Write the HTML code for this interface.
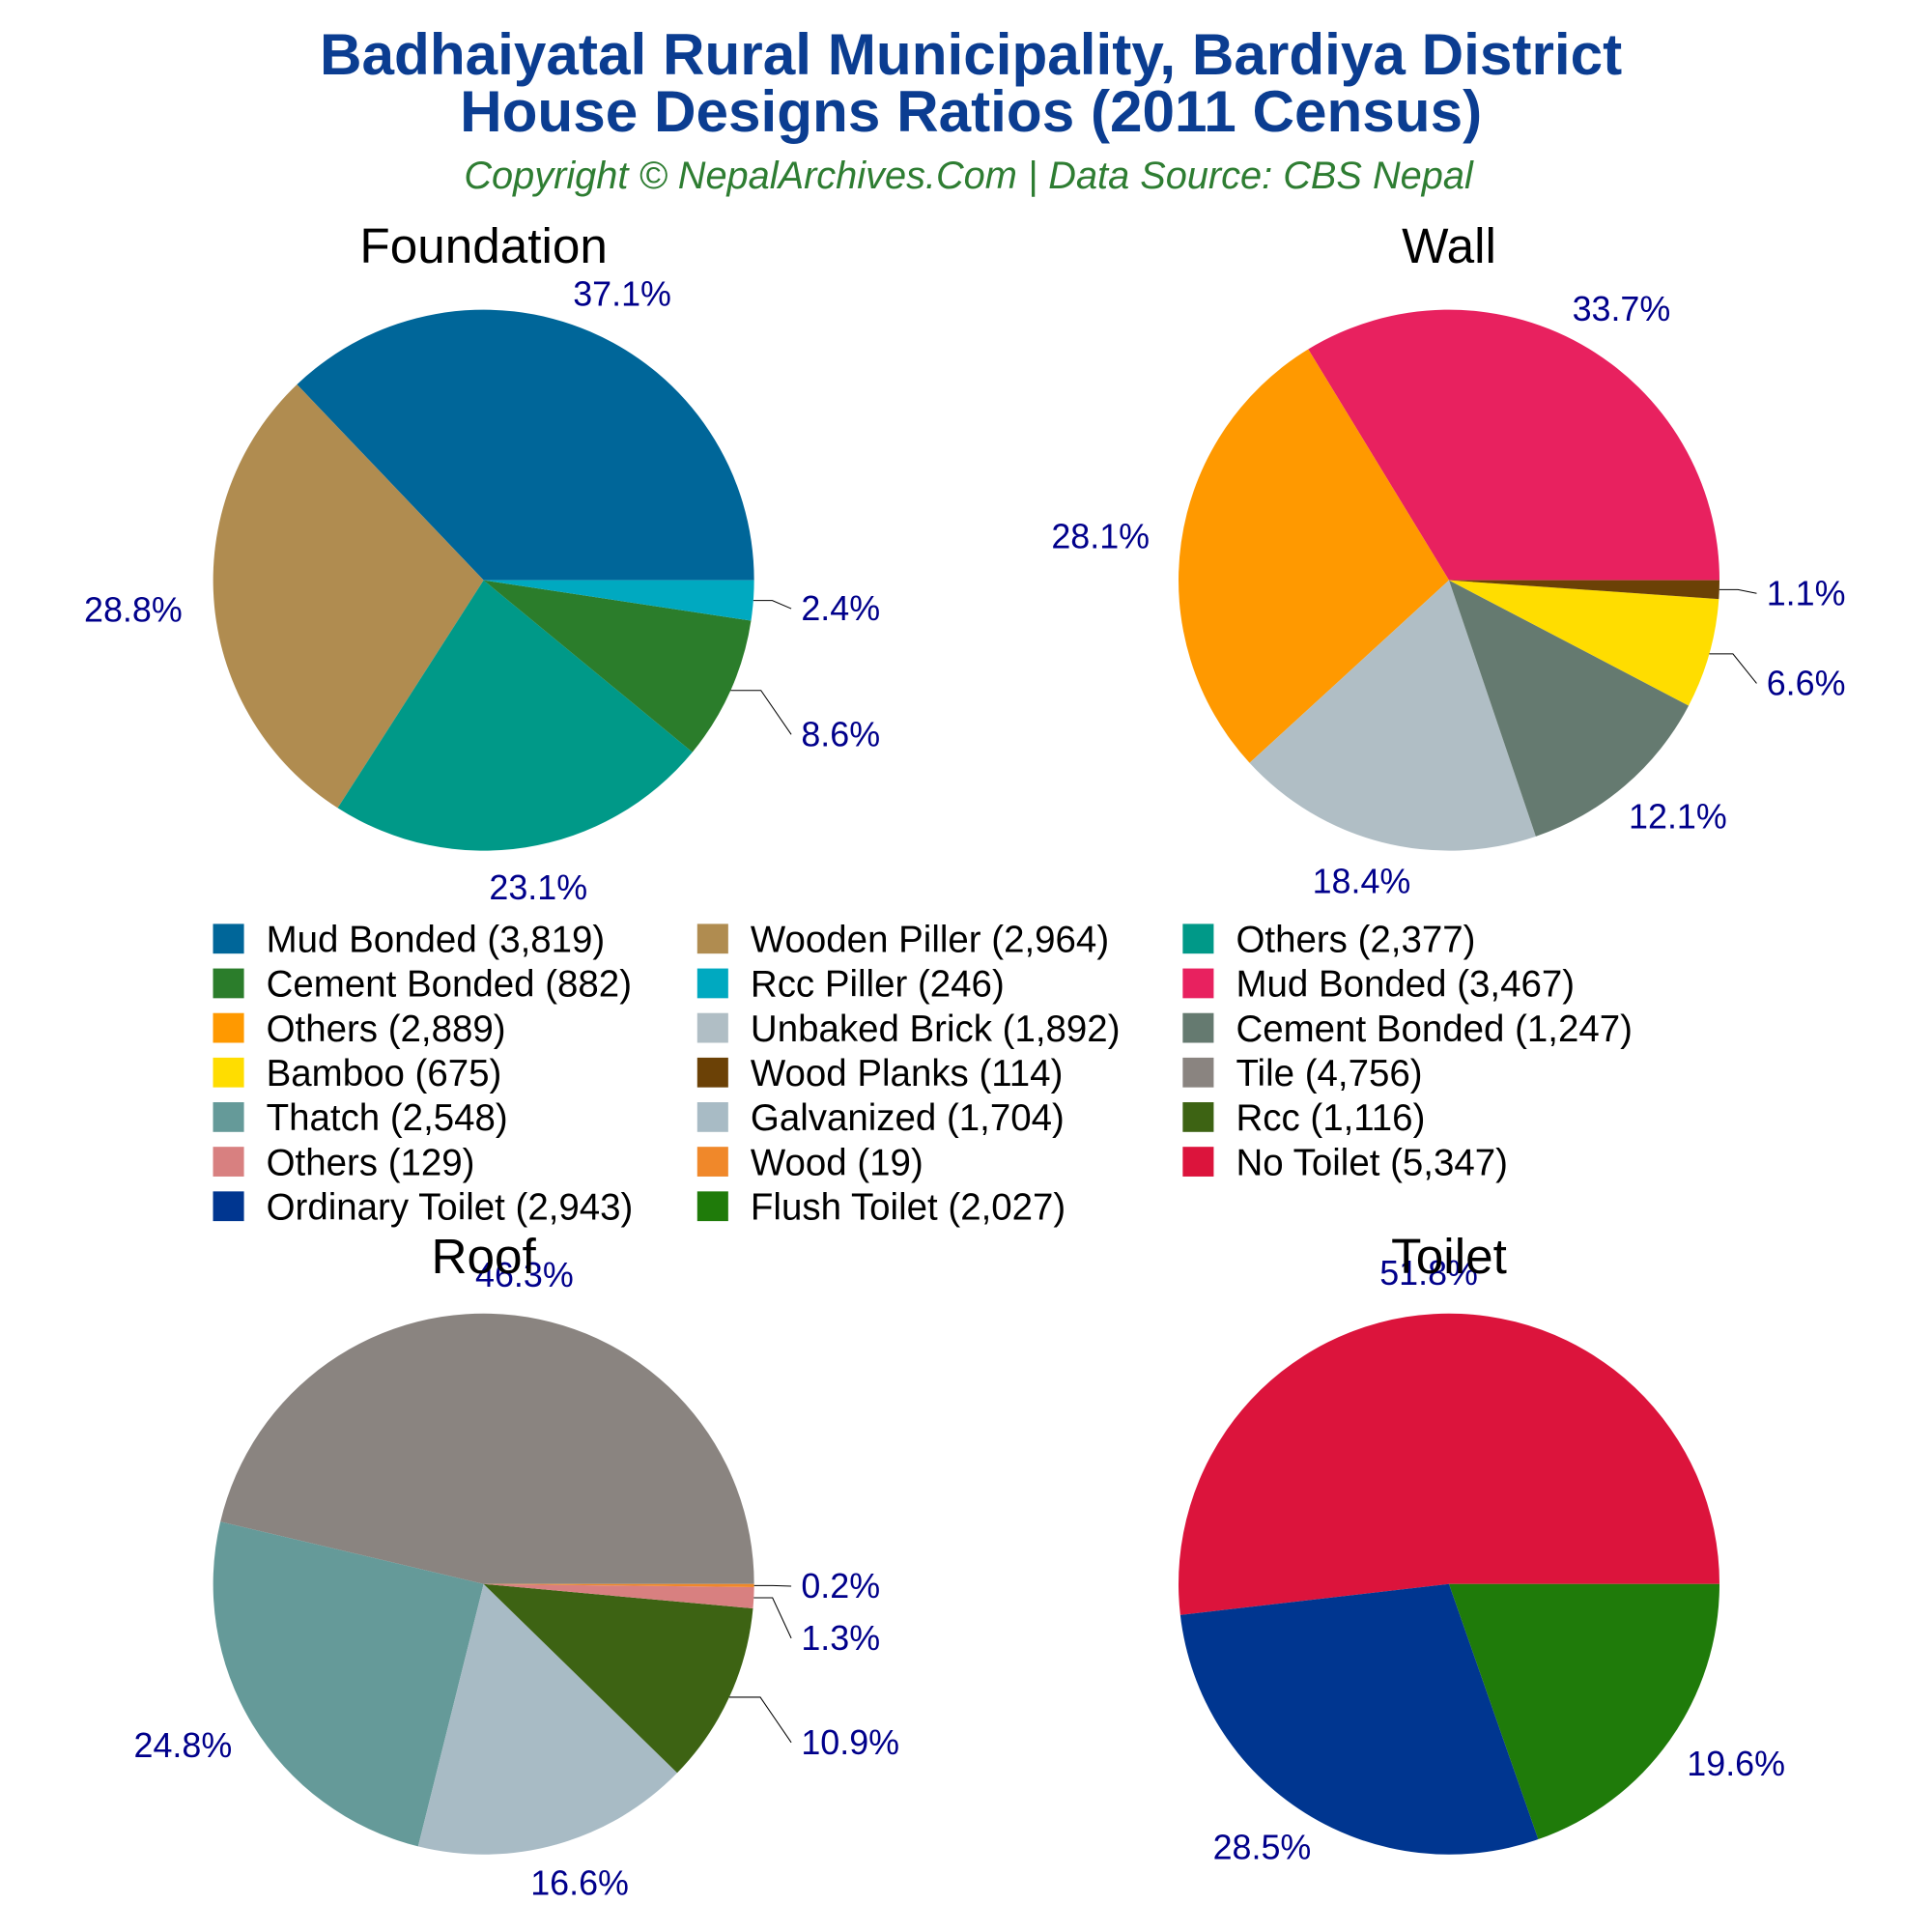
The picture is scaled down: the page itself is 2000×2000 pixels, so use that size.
<!DOCTYPE html>
<html><head><meta charset="utf-8"><style>
html,body{margin:0;padding:0;background:#fff}
svg{display:block;font-family:"Liberation Sans",Arial,sans-serif}
</style></head><body>
<svg id="chart" width="2000" height="2000" viewBox="0 0 1560 1560" xmlns="http://www.w3.org/2000/svg">
<text x="784" y="60" text-anchor="middle" font-size="47" font-weight="bold" fill="#0b3d91">Badhaiyatal Rural Municipality, Bardiya District</text>
<text x="784" y="106" text-anchor="middle" font-size="47" font-weight="bold" fill="#0b3d91">House Designs Ratios (2011 Census)</text>
<text x="782" y="152" text-anchor="middle" font-size="31" font-style="italic" fill="#2e7d32">Copyright © NepalArchives.Com | Data Source: CBS Nepal</text>
<g id="pies"></g>
<g id="legend"></g>
</svg>
<script>
const foundationLabels=["Mud Bonded","Wooden Piller","Others","Cement Bonded","Rcc Piller"];
const foundationValues=[3819,2964,2377,882,246];
const foundationColors=["#006699","#b08c50","#009988","#2b7d2b","#00a9c0"];
const wallLabels=["Mud Bonded","Others","Unbaked Brick","Cement Bonded","Bamboo","Wood Planks"];
const wallValues=[3467,2889,1892,1247,675,114];
const wallColors=["#e8215f","#ff9900","#b0bec5","#657a70","#ffdd00","#6b4106"];
const roofLabels=["Tile","Thatch","Galvanized","Rcc","Others","Wood"];
const roofValues=[4756,2548,1704,1116,129,19];
const roofColors=["#8a8480","#659a99","#a8bbc5","#3d6313","#d88080","#f0882a"];
const toiletLabels=["No Toilet","Ordinary Toilet","Flush Toilet"];
const toiletValues=[5347,2943,2027];
const toiletColors=["#dc143c","#003690","#1f7b0a"];
const legendOrderLabels=["Mud Bonded","Wooden Piller","Others","Cement Bonded","Rcc Piller","Mud Bonded","Others","Unbaked Brick","Cement Bonded","Bamboo","Wood Planks","Tile","Thatch","Galvanized","Rcc","Others","Wood","No Toilet","Ordinary Toilet","Flush Toilet"];
const legendOrderValues=[3819,2964,2377,882,246,3467,2889,1892,1247,675,114,4756,2548,1704,1116,129,19,5347,2943,2027];
const legendOrderColors=["#006699","#b08c50","#009988","#2b7d2b","#00a9c0","#e8215f","#ff9900","#b0bec5","#657a70","#ffdd00","#6b4106","#8a8480","#659a99","#a8bbc5","#3d6313","#d88080","#f0882a","#dc143c","#003690","#1f7b0a"];

const NS="http://www.w3.org/2000/svg";
function mk(tag,attrs,parent){const e=document.createElementNS(NS,tag);for(const k in attrs)e.setAttribute(k,attrs[k]);parent.appendChild(e);return e;}
const pies=document.getElementById('pies');
const R=218.4;
function fmt(n){return n.toLocaleString('en-US');}
function drawPie(key,title,labels,values,colors,cx,cy,ty){
  const g=mk('g',{},pies);
  
  
  const total=values.reduce((a,b)=>a+b,0);
  let a0=0;const leaders=[];
  values.forEach((v,i)=>{
    const frac=v/total;const a1=a0+frac*2*Math.PI;
    const x0=cx+R*Math.cos(a0),y0=cy-R*Math.sin(a0),x1=cx+R*Math.cos(a1),y1=cy-R*Math.sin(a1);
    const large=frac>0.5?1:0;
    const p=mk('path',{d:`M${cx},${cy} L${x0},${y0} A${R},${R} 0 ${large} 0 ${x1},${y1} Z`,fill:colors[i]},g);
    
    
    const mid=(a0+a1)/2;const c=Math.cos(mid),s=Math.sin(mid);
    const pct=(frac*100).toFixed(1)+'%';
    if(frac*100<=11&&c>0){
      leaders.push({pct:pct,c:c,s:s,ny:cy-1.4*R*s});
    }else{
      const px=cx+1.1*R*c+c*44,py=cy-1.1*R*s-s*11;
      const t=mk('text',{x:px,y:py,'text-anchor':'middle','dominant-baseline':'central','font-size':28,fill:'#00008b'},g);
      t.textContent=pct;
      
      
    }
    a0=a1;
  });
  leaders.sort((a,b)=>a.ny-b.ny);
  let last=-1e9;
  leaders.forEach(L=>{
    let ly=L.ny; if(ly<last+42)ly=last+42; last=ly;
    const ex=cx+R*L.c,ey=cy-R*L.s,lx=cx+R+38;
    const ln=mk('polyline',{points:`${ex},${ey} ${ex+(lx-8-ex)*0.5},${ey} ${lx-8},${ly}`,fill:'none',stroke:'#000','stroke-width':0.8},g);
    
    
    const t=mk('text',{x:lx,y:ly,'text-anchor':'start','dominant-baseline':'central','font-size':28,fill:'#00008b'},g);
    t.textContent=L.pct;
    
    
  });
  const tt=mk('text',{x:cx,y:ty,'text-anchor':'middle','font-size':40,fill:'#000'},g);
  tt.textContent=title;
  
  
}
drawPie('foundation','Foundation',foundationLabels,foundationValues,foundationColors,390.5,468.5,212);
drawPie('wall','Wall',wallLabels,wallValues,wallColors,1170,468.5,212);
drawPie('roof','Roof',roofLabels,roofValues,roofColors,390.5,1279,1028);
drawPie('toilet','Toilet',toiletLabels,toiletValues,toiletColors,1170,1279,1028);

const lg=document.getElementById('legend');


const colX=[172,563,955];
legendOrderLabels.forEach((lab,i)=>{
  const col=i%3,row=Math.floor(i/3);
  const x=colX[col],y=758+row*36;
  const e=mk('g',{},lg);
  
  
  mk('rect',{x:x,y:y-12,width:25,height:24,fill:legendOrderColors[i]},e);
  const t=mk('text',{x:x+43,y:y+1,'dominant-baseline':'central','font-size':30,fill:'#000'},e);
  t.textContent=lab+' ('+fmt(legendOrderValues[i])+')';
});
</script>
</body></html>
